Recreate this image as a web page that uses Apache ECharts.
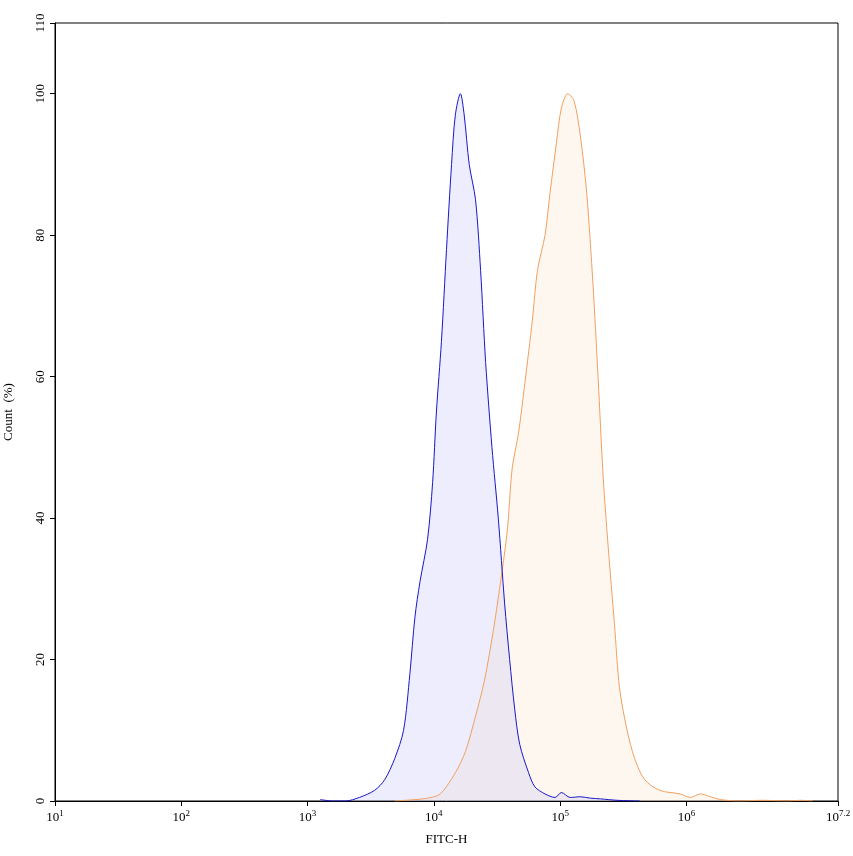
<!DOCTYPE html>
<html><head><meta charset="utf-8">
<script src="https://cdn.jsdelivr.net/npm/echarts@6/dist/echarts.min.js"></script>
<style>html,body{margin:0;padding:0;background:#fff}#c{width:853px;height:856px}</style>
</head><body><div id="c"></div>
<script>
// x values are log10(FITC-H)
const blueX = [3.1,3.2,3.3,3.41,3.53,3.61,3.69,3.76,3.81,3.85,3.89,3.95,3.99,4.02,4.06,4.10,4.14,4.17,4.21,4.24,4.28,4.33,4.37,4.41,4.46,4.51,4.56,4.60,4.64,4.68,4.75,4.80,4.88,4.96,5.01,5.08,5.16,5.24,5.32,5.45,5.63];
const blueY = [0.2,0,0,0.5,1.5,3,6,10,18,26,31,37,45,55,65,78,90,97,100,97,90,85,75,62,50,40,28,20,13,8,4,2,1,0.5,1.2,0.5,0.6,0.4,0.3,0.1,0];
const orangeX = [3.69,3.85,3.95,4.05,4.17,4.25,4.33,4.40,4.47,4.52,4.58,4.62,4.67,4.72,4.78,4.82,4.88,4.92,4.97,5.01,5.06,5.11,5.16,5.21,5.26,5.30,5.34,5.38,5.43,5.47,5.53,5.59,5.67,5.79,5.95,6.03,6.11,6.19,6.27,6.42,6.6,6.8,6.9,7.0];
const orangeY = [0,0.2,0.4,1,4,7,12,17,24,30,38,47,52,59,68,75,80,86,93,98,100,99,94,86,73,60,46,36,25,16,10,6,3,1.5,1,0.5,1,0.6,0.2,0,0.1,0,0.1,0];
const xTicks = [1,2,3,4,5,6,7.2];
const yTicks = [0,20,40,60,80,100,110];
const zip=(a,b)=>a.map((v,i)=>[v,b[i]]);
const font='Liberation Serif';
const chart=echarts.init(document.getElementById('c'));
chart.setOption({
  animation:false,
  grid:{left:55,right:15,top:23,bottom:55,containLabel:false,outerBoundsMode:'none'},
  xAxis:{type:'value',min:1,max:7.2,name:'FITC-H',nameLocation:'middle',nameGap:32,
    nameTextStyle:{fontFamily:font,fontSize:13,color:'#000'},
    axisLine:{lineStyle:{color:'#000'}},splitLine:{show:false},
    axisTick:{customValues:xTicks,lineStyle:{color:'#000'}},
    axisLabel:{customValues:xTicks,fontFamily:font,fontSize:13,color:'#000',
      formatter:v=>'10{s|'+(v===7.2?'7.2':Math.round(v))+'}',
      rich:{s:{fontSize:9,verticalAlign:'top',padding:[0,0,8,0],fontFamily:font,color:'#000'}}}},
  yAxis:{type:'value',min:0,max:110,name:'Count  (%)',nameLocation:'middle',nameGap:40,nameRotate:90,
    nameTextStyle:{fontFamily:font,fontSize:13,color:'#000'},
    axisLine:{show:true,lineStyle:{color:'#000'}},splitLine:{show:false},
    axisTick:{customValues:yTicks,lineStyle:{color:'#000'}},
    axisLabel:{customValues:yTicks,rotate:90,fontFamily:font,fontSize:13,color:'#000'}},
  series:[
    {type:'line',data:zip(orangeX,orangeY),smooth:0.3,symbol:'none',
      lineStyle:{color:'#f0a060',width:1},areaStyle:{color:'rgba(250,225,200,0.4)'}},
    {type:'line',data:zip(blueX,blueY),smooth:0.3,symbol:'none',
      lineStyle:{color:'#1818c8',width:1},areaStyle:{color:'rgba(180,180,245,0.35)'}}
  ],
  graphic:[{type:'rect',shape:{x:55,y:23,width:783,height:778},style:{fill:null,stroke:'#000',lineWidth:1},silent:true}]
});
</script></body></html>
